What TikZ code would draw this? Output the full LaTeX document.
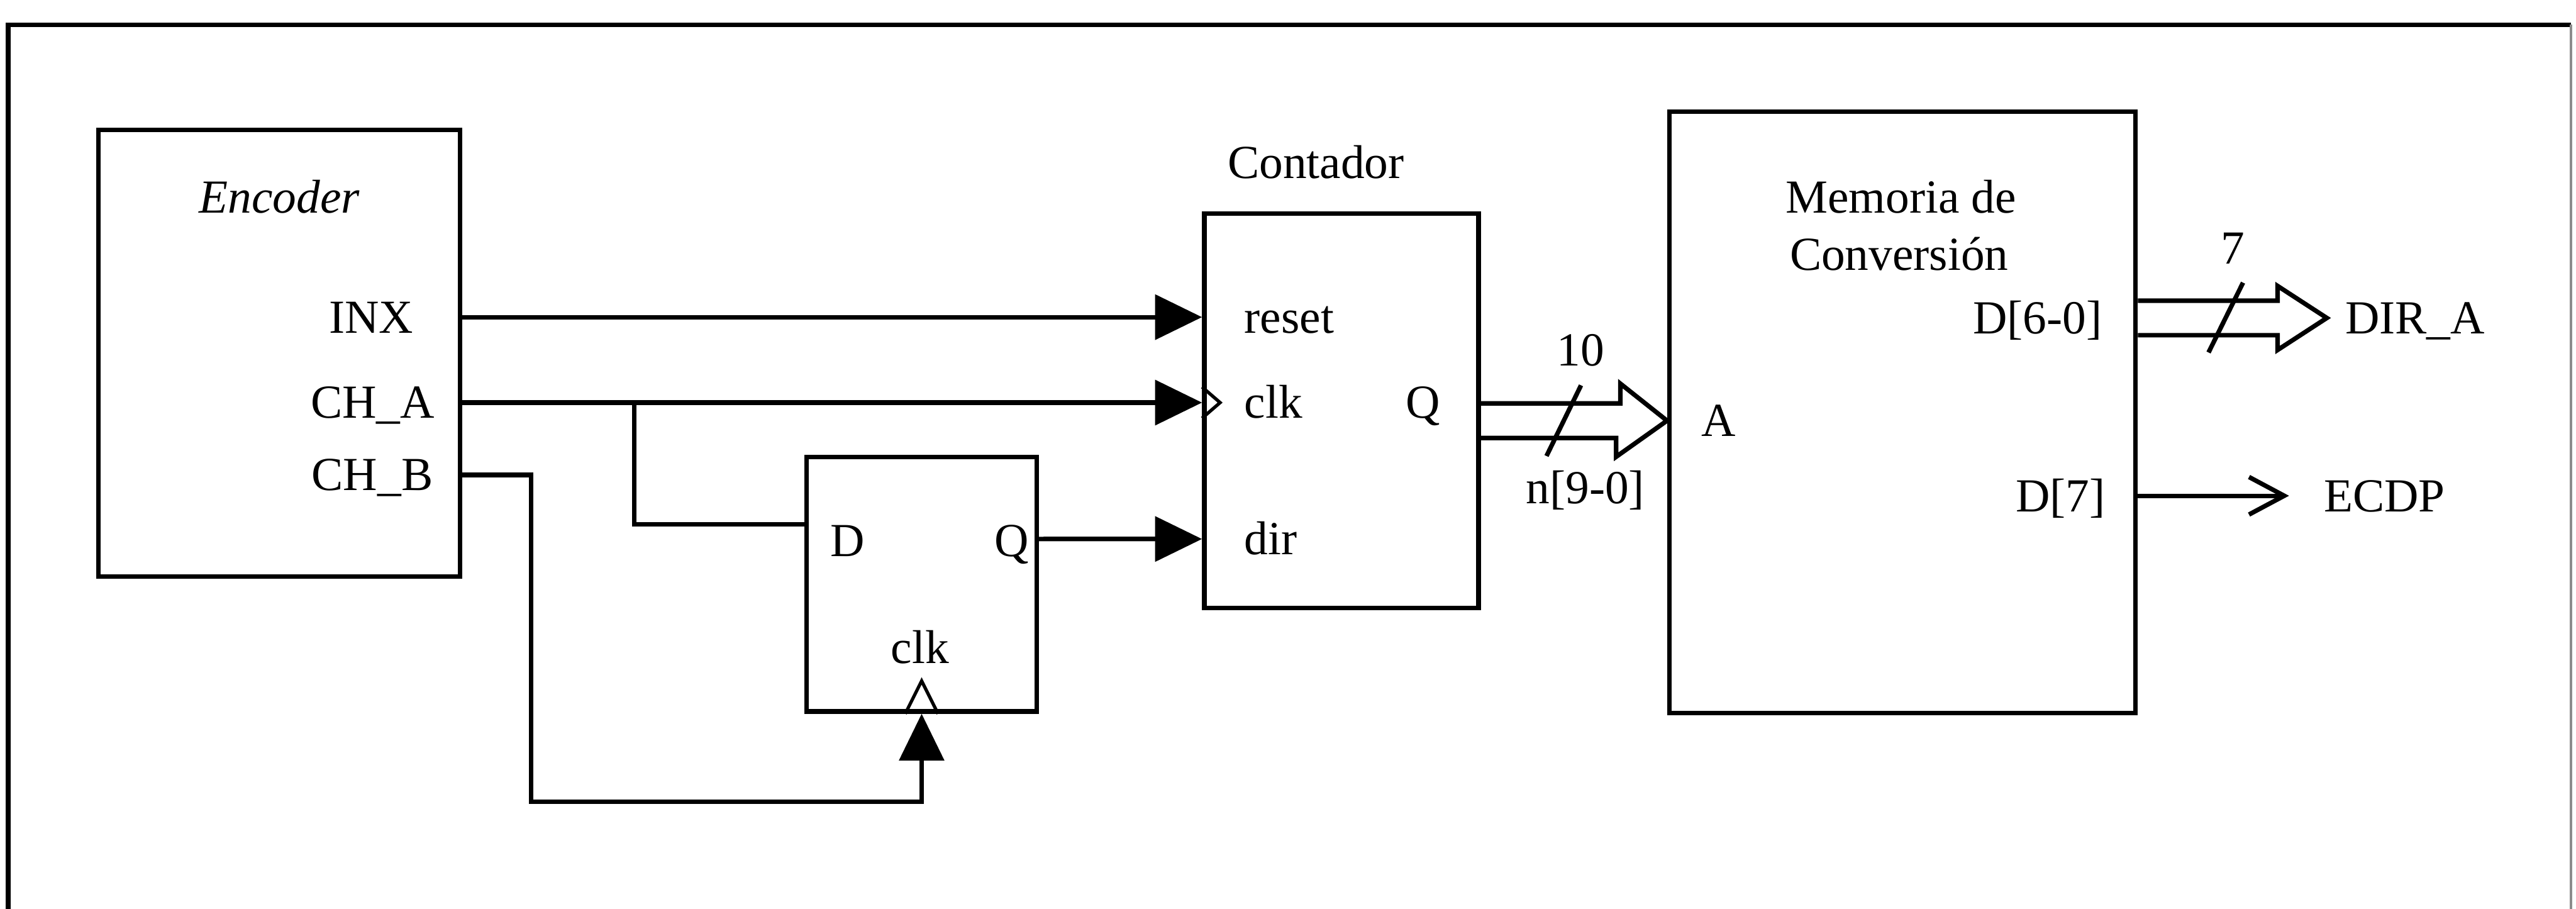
\documentclass[tikz,border=0pt]{standalone}
\usepackage{fontspec}
\setmainfont{Liberation Serif}
\usetikzlibrary{arrows.meta,calc}

\tikzset{
  blk/.style={draw,line width=1.1pt,inner sep=0pt},
  lbl/.style={inner sep=0pt,text height=7.6pt,text depth=0pt},
  wire/.style={line width=1.1pt},
  pin/.style={wire,-{Triangle[length=4mm,width=3.8mm]}},
}

\begin{document}
\begin{tikzpicture}[x=0.014cm,y=-0.014cm,font=\fontsize{11.5}{13.9}\selectfont]
\useasboundingbox (0,0) rectangle (1568,553);
\draw[wire] (5,553) -- (5,15) -- (1565,15);
\draw[line width=0.6pt,black!45] (1565,15) -- (1565,553);

\node[blk,minimum width=3.08cm,minimum height=3.808cm] (enc) at (170,215) {};
\node[blk,minimum width=2.338cm,minimum height=3.36cm] (cnt) at (816.5,250) {};
\node[blk,minimum width=1.96cm,minimum height=2.17cm] (dff) at (561,355.5) {};
\node[blk,minimum width=3.976cm,minimum height=5.124cm] (mem) at (1158,251) {};

\node[lbl] (enclbl) at (170,120) {\itshape Encoder};
\node[lbl,anchor=east] (inx) at (252,193) {INX};
\node[lbl,anchor=east] (cha) at (265,245) {CH\_A};
\node[lbl,anchor=east] (chb) at (264,289) {CH\_B};
\node[lbl] (cntlbl) at (801,99) {Contador};
\node[lbl,anchor=west] (rst) at (757,193) {reset};
\node[lbl,anchor=west] (ckc) at (757,245) {clk};
\node[lbl] (qc) at (866,245) {Q};
\node[lbl,anchor=west] (dirl) at (757,328) {dir};
\node[lbl] (dl) at (516,329) {D};
\node[lbl] (ql) at (616,329) {Q};
\node[lbl] (ckd) at (560,394) {clk};
\node[lbl] (memA) at (1157,120) {Memoria de};
\node[lbl] (memB) at (1156,155) {Conversión};
\node[lbl] (aA) at (1046,256) {A};
\node[lbl,anchor=east] (d60) at (1280,193.5) {D[6-0]};
\node[lbl,anchor=east] (d7) at (1282,301.7) {D[7]};
\node[lbl] (w10) at (962,213) {10};
\node[lbl] (n90) at (965,297) {n[9-0]};
\node[lbl] (w7) at (1359,151) {7};
\node[lbl,anchor=west] (dira) at (1427,193.5) {DIR\_A};
\node[lbl,anchor=west] (ecdp) at (1414,301.7) {ECDP};

\draw[pin] (enc.east |- inx) -- (cnt.west |- rst);
\draw[pin] (enc.east |- cha) -- (cnt.west |- ckc);
\coordinate (jA) at (386,0 |- cha);
\draw[wire] (jA) |- ([yshift=0.511cm]dff.west);
\draw[pin] ([yshift=0.385cm]dff.east) -- (cnt.west |- dirl);
\draw[pin] (enc.east |- chb) -- ++(42,0) |- ([yshift=-0.75cm]dff.south) -- (dff.south);

\draw[line width=0.8pt] ([xshift=-0.14cm]dff.south) -- ([yshift=0.28cm]dff.south) -- ([xshift=0.14cm]dff.south);
\draw[line width=0.8pt] ($(cnt.west |- ckc)+(0,-9.5)$) -- ($(cnt.west |- ckc)+(11,0)$) -- ($(cnt.west |- ckc)+(0,9.5)$);

\draw[wire] ($(cnt.east |- aA)+(0,-10.5)$) -- ++(85,0) -- ++(0,-12) -- (mem.west |- aA) -- ++(-31,22) -- ++(0,-11.5) -- ($(cnt.east |- aA)+(0,10.5)$);
\draw[wire] ($(cnt.east |- aA)+(40,21.5)$) -- ++(21,-43);

\draw[wire] ($(mem.east |- d60)+(0,-10.5)$) -- ++(85,0) -- ++(0,-9) -- ++(30,19.5) -- ++(-30,19.5) -- ++(0,-9) -- ($(mem.east |- d60)+(0,10.5)$);
\draw[wire] ($(mem.east |- d60)+(43,21)$) -- ++(21,-42.5);

\draw[wire,-{Straight Barb[length=3mm,width=3.2mm]}] (mem.east |- d7) -- ([xshift=-0.29cm]ecdp.west);
\end{tikzpicture}
\end{document}
